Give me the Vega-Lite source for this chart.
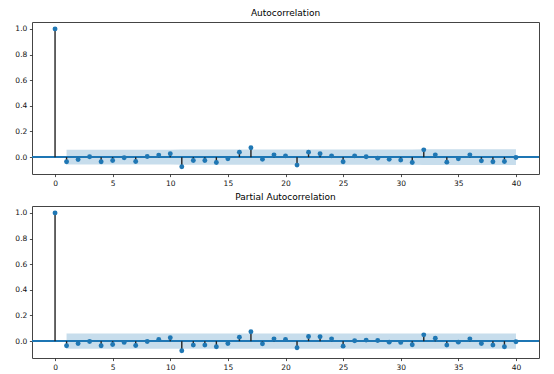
{
  "$schema": "https://vega.github.io/schema/vega-lite/v6.json",
  "padding": {"left": 14, "right": 16, "top": 8, "bottom": 5},
  "background": "white",
  "spacing": 4,
  "config": {
    "font": "DejaVu Sans",
    "view": {"stroke": "#444", "strokeWidth": 1},
    "title": {"fontSize": 9, "fontWeight": "normal", "color": "#000", "offset": 4.5, "font": "DejaVu Sans"},
    "axis": {
      "domain": false, "grid": false, "tickColor": "#222", "tickSize": 2.6, "tickWidth": 0.8,
      "labelPadding": 2.6, "labelFontSize": 7.5, "labelColor": "#111", "labelFont": "DejaVu Sans",
      "labelOverlap": false, "labelFlush": false, "labelBound": false
    }
  },
  "datasets": {
    "acf": [
      {"lag": 0, "value": 1.0, "lo": null, "hi": null},
      {"lag": 1, "value": -0.036, "lo": -0.058, "hi": 0.058},
      {"lag": 2, "value": -0.018, "lo": -0.058, "hi": 0.058},
      {"lag": 3, "value": 0.003, "lo": -0.058, "hi": 0.058},
      {"lag": 4, "value": -0.036, "lo": -0.058, "hi": 0.058},
      {"lag": 5, "value": -0.026, "lo": -0.058, "hi": 0.058},
      {"lag": 6, "value": -0.005, "lo": -0.058, "hi": 0.058},
      {"lag": 7, "value": -0.034, "lo": -0.058, "hi": 0.058},
      {"lag": 8, "value": 0.005, "lo": -0.058, "hi": 0.058},
      {"lag": 9, "value": 0.016, "lo": -0.058, "hi": 0.058},
      {"lag": 10, "value": 0.026, "lo": -0.058, "hi": 0.058},
      {"lag": 11, "value": -0.075, "lo": -0.059, "hi": 0.059},
      {"lag": 12, "value": -0.026, "lo": -0.059, "hi": 0.059},
      {"lag": 13, "value": -0.026, "lo": -0.059, "hi": 0.059},
      {"lag": 14, "value": -0.042, "lo": -0.059, "hi": 0.059},
      {"lag": 15, "value": -0.013, "lo": -0.059, "hi": 0.059},
      {"lag": 16, "value": 0.039, "lo": -0.059, "hi": 0.059},
      {"lag": 17, "value": 0.073, "lo": -0.059, "hi": 0.059},
      {"lag": 18, "value": -0.016, "lo": -0.06, "hi": 0.06},
      {"lag": 19, "value": 0.018, "lo": -0.06, "hi": 0.06},
      {"lag": 20, "value": 0.01, "lo": -0.06, "hi": 0.06},
      {"lag": 21, "value": -0.062, "lo": -0.06, "hi": 0.06},
      {"lag": 22, "value": 0.039, "lo": -0.06, "hi": 0.06},
      {"lag": 23, "value": 0.026, "lo": -0.06, "hi": 0.06},
      {"lag": 24, "value": 0.01, "lo": -0.06, "hi": 0.06},
      {"lag": 25, "value": -0.036, "lo": -0.06, "hi": 0.06},
      {"lag": 26, "value": 0.01, "lo": -0.06, "hi": 0.06},
      {"lag": 27, "value": 0.003, "lo": -0.06, "hi": 0.06},
      {"lag": 28, "value": -0.008, "lo": -0.06, "hi": 0.06},
      {"lag": 29, "value": -0.016, "lo": -0.06, "hi": 0.06},
      {"lag": 30, "value": -0.023, "lo": -0.06, "hi": 0.06},
      {"lag": 31, "value": -0.042, "lo": -0.06, "hi": 0.06},
      {"lag": 32, "value": 0.057, "lo": -0.061, "hi": 0.061},
      {"lag": 33, "value": 0.018, "lo": -0.061, "hi": 0.061},
      {"lag": 34, "value": -0.039, "lo": -0.061, "hi": 0.061},
      {"lag": 35, "value": -0.013, "lo": -0.061, "hi": 0.061},
      {"lag": 36, "value": 0.018, "lo": -0.061, "hi": 0.061},
      {"lag": 37, "value": -0.029, "lo": -0.061, "hi": 0.061},
      {"lag": 38, "value": -0.036, "lo": -0.061, "hi": 0.061},
      {"lag": 39, "value": -0.034, "lo": -0.061, "hi": 0.061},
      {"lag": 40, "value": -0.003, "lo": -0.061, "hi": 0.061}
    ],
    "pacf": [
      {"lag": 0, "value": 1.0, "lo": null, "hi": null},
      {"lag": 1, "value": -0.036, "lo": -0.06, "hi": 0.06},
      {"lag": 2, "value": -0.018, "lo": -0.06, "hi": 0.06},
      {"lag": 3, "value": -0.003, "lo": -0.06, "hi": 0.06},
      {"lag": 4, "value": -0.036, "lo": -0.06, "hi": 0.06},
      {"lag": 5, "value": -0.026, "lo": -0.06, "hi": 0.06},
      {"lag": 6, "value": -0.01, "lo": -0.06, "hi": 0.06},
      {"lag": 7, "value": -0.034, "lo": -0.06, "hi": 0.06},
      {"lag": 8, "value": -0.003, "lo": -0.06, "hi": 0.06},
      {"lag": 9, "value": 0.013, "lo": -0.06, "hi": 0.06},
      {"lag": 10, "value": 0.026, "lo": -0.06, "hi": 0.06},
      {"lag": 11, "value": -0.075, "lo": -0.06, "hi": 0.06},
      {"lag": 12, "value": -0.031, "lo": -0.06, "hi": 0.06},
      {"lag": 13, "value": -0.031, "lo": -0.06, "hi": 0.06},
      {"lag": 14, "value": -0.044, "lo": -0.06, "hi": 0.06},
      {"lag": 15, "value": -0.018, "lo": -0.06, "hi": 0.06},
      {"lag": 16, "value": 0.031, "lo": -0.06, "hi": 0.06},
      {"lag": 17, "value": 0.073, "lo": -0.06, "hi": 0.06},
      {"lag": 18, "value": -0.021, "lo": -0.06, "hi": 0.06},
      {"lag": 19, "value": 0.018, "lo": -0.06, "hi": 0.06},
      {"lag": 20, "value": 0.013, "lo": -0.06, "hi": 0.06},
      {"lag": 21, "value": -0.052, "lo": -0.06, "hi": 0.06},
      {"lag": 22, "value": 0.036, "lo": -0.06, "hi": 0.06},
      {"lag": 23, "value": 0.034, "lo": -0.06, "hi": 0.06},
      {"lag": 24, "value": 0.018, "lo": -0.06, "hi": 0.06},
      {"lag": 25, "value": -0.039, "lo": -0.06, "hi": 0.06},
      {"lag": 26, "value": 0.003, "lo": -0.06, "hi": 0.06},
      {"lag": 27, "value": 0.008, "lo": -0.06, "hi": 0.06},
      {"lag": 28, "value": 0.005, "lo": -0.06, "hi": 0.06},
      {"lag": 29, "value": -0.008, "lo": -0.06, "hi": 0.06},
      {"lag": 30, "value": -0.01, "lo": -0.06, "hi": 0.06},
      {"lag": 31, "value": -0.028, "lo": -0.06, "hi": 0.06},
      {"lag": 32, "value": 0.049, "lo": -0.06, "hi": 0.06},
      {"lag": 33, "value": 0.023, "lo": -0.06, "hi": 0.06},
      {"lag": 34, "value": -0.031, "lo": -0.06, "hi": 0.06},
      {"lag": 35, "value": -0.008, "lo": -0.06, "hi": 0.06},
      {"lag": 36, "value": 0.018, "lo": -0.06, "hi": 0.06},
      {"lag": 37, "value": -0.018, "lo": -0.06, "hi": 0.06},
      {"lag": 38, "value": -0.031, "lo": -0.06, "hi": 0.06},
      {"lag": 39, "value": -0.044, "lo": -0.06, "hi": 0.06},
      {"lag": 40, "value": -0.005, "lo": -0.06, "hi": 0.06}
    ]
  },
  "vconcat": [
    {
      "title": "Autocorrelation",
      "width": 507,
      "height": 152,
      "data": {"name": "acf"},
      "layer": [
        {
          "transform": [{"filter": "datum.lag >= 1"}],
          "mark": {"type": "area", "color": "#1f77b4", "opacity": 0.25},
          "encoding": {
            "x": {"field": "lag", "type": "quantitative", "title": null, "scale": {"domain": [-2, 42], "nice": false, "zero": false},
                  "axis": {"values": [0, 5, 10, 15, 20, 25, 30, 35, 40], "labelOverlap": false}},
            "y": {"field": "lo", "type": "quantitative", "title": null, "scale": {"domain": [-0.1315, 1.054], "nice": false, "zero": false},
                  "axis": {"values": [0, 0.2, 0.4, 0.6, 0.8, 1.0], "format": ".1f", "labelOverlap": false}},
            "y2": {"field": "hi"}
          }
        },
        {
          "mark": {"type": "rule", "color": "#1f77b4", "strokeWidth": 1},
          "encoding": {"y": {"datum": 0, "type": "quantitative", "title": null, "axis": {"values": [0, 0.2, 0.4, 0.6, 0.8, 1.0], "format": ".1f", "labelOverlap": false}}}
        },
        {
          "mark": {"type": "rule", "color": "#222", "strokeWidth": 1.4},
          "encoding": {
            "x": {"field": "lag", "type": "quantitative", "title": null, "axis": {"values": [0, 5, 10, 15, 20, 25, 30, 35, 40], "labelOverlap": false}},
            "y": {"field": "value", "type": "quantitative", "title": null, "axis": {"values": [0, 0.2, 0.4, 0.6, 0.8, 1.0], "format": ".1f", "labelOverlap": false}},
            "y2": {"datum": 0}
          }
        },
        {
          "mark": {"type": "point", "filled": true, "color": "#1f77b4", "opacity": 1, "size": 24},
          "encoding": {
            "x": {"field": "lag", "type": "quantitative", "title": null, "axis": {"values": [0, 5, 10, 15, 20, 25, 30, 35, 40], "labelOverlap": false}},
            "y": {"field": "value", "type": "quantitative", "title": null, "axis": {"values": [0, 0.2, 0.4, 0.6, 0.8, 1.0], "format": ".1f", "labelOverlap": false}}
          }
        }
      ]
    },
    {
      "title": "Partial Autocorrelation",
      "width": 507,
      "height": 152,
      "data": {"name": "pacf"},
      "layer": [
        {
          "transform": [{"filter": "datum.lag >= 1"}],
          "mark": {"type": "area", "color": "#1f77b4", "opacity": 0.25},
          "encoding": {
            "x": {"field": "lag", "type": "quantitative", "title": null, "scale": {"domain": [-2, 42], "nice": false, "zero": false},
                  "axis": {"values": [0, 5, 10, 15, 20, 25, 30, 35, 40], "labelOverlap": false}},
            "y": {"field": "lo", "type": "quantitative", "title": null, "scale": {"domain": [-0.1315, 1.054], "nice": false, "zero": false},
                  "axis": {"values": [0, 0.2, 0.4, 0.6, 0.8, 1.0], "format": ".1f", "labelOverlap": false}},
            "y2": {"field": "hi"}
          }
        },
        {
          "mark": {"type": "rule", "color": "#1f77b4", "strokeWidth": 1},
          "encoding": {"y": {"datum": 0, "type": "quantitative", "title": null, "axis": {"values": [0, 0.2, 0.4, 0.6, 0.8, 1.0], "format": ".1f", "labelOverlap": false}}}
        },
        {
          "mark": {"type": "rule", "color": "#222", "strokeWidth": 1.4},
          "encoding": {
            "x": {"field": "lag", "type": "quantitative", "title": null, "axis": {"values": [0, 5, 10, 15, 20, 25, 30, 35, 40], "labelOverlap": false}},
            "y": {"field": "value", "type": "quantitative", "title": null, "axis": {"values": [0, 0.2, 0.4, 0.6, 0.8, 1.0], "format": ".1f", "labelOverlap": false}},
            "y2": {"datum": 0}
          }
        },
        {
          "mark": {"type": "point", "filled": true, "color": "#1f77b4", "opacity": 1, "size": 24},
          "encoding": {
            "x": {"field": "lag", "type": "quantitative", "title": null, "axis": {"values": [0, 5, 10, 15, 20, 25, 30, 35, 40], "labelOverlap": false}},
            "y": {"field": "value", "type": "quantitative", "title": null, "axis": {"values": [0, 0.2, 0.4, 0.6, 0.8, 1.0], "format": ".1f", "labelOverlap": false}}
          }
        }
      ]
    }
  ]
}
